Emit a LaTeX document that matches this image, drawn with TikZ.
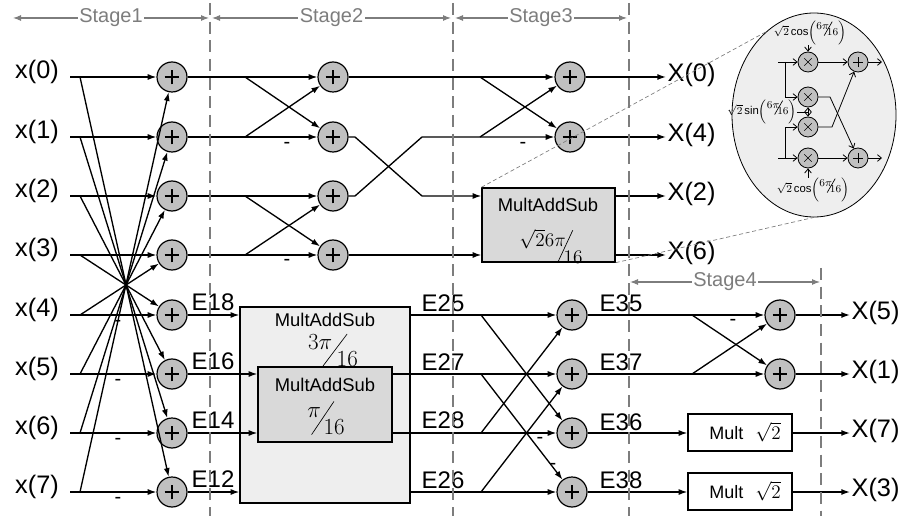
\documentclass[tikz,border=0pt]{standalone}
\usepackage{fontspec}
\setmainfont{Liberation Sans}
\usepackage{graphicx}
\usetikzlibrary{arrows.meta,shapes.geometric}
\definecolor{addfill}{RGB}{192,192,192}
\definecolor{boxdark}{RGB}{217,217,217}
\definecolor{boxlight}{RGB}{238,238,238}
\definecolor{guide}{RGB}{125,125,125}
\newcommand{\slf}[5][0.8em]{\raisebox{#1}{#2}\kern-0.45em\rotatebox{#5}{\rule{#4}{0.5pt}}\kern-0.5em#3}
\tikzset{
  wire/.style={line width=1pt},
  arr/.style={wire,-{Latex[length=6.5pt,width=4.5pt]}},
  adder/.style={circle,draw,fill=addfill,minimum size=22.5pt,inner sep=0pt,line width=0.9pt,
    path picture={\draw[line width=0.8pt] ([xshift=-5.6pt]path picture bounding box.center) -- ([xshift=5.6pt]path picture bounding box.center) ([yshift=-5.6pt]path picture bounding box.center) -- ([yshift=5.6pt]path picture bounding box.center);}},
  inlab/.style={font=\fontsize{19}{22}\selectfont,inner sep=1pt},
  outlab/.style={font=\fontsize{19}{22}\selectfont,inner sep=1pt,anchor=west},
  elab/.style={font=\fontsize{18}{21}\selectfont,inner sep=0pt},
  minus/.style={font=\fontsize{15}{18}\selectfont,inner sep=0pt},
  boxtitle/.style={font=\fontsize{13.8}{16}\selectfont,inner sep=0pt},
  fracl/.style={font=\fontsize{16}{19}\selectfont,inner sep=0pt},
  blk/.style={draw,inner sep=0pt,line width=1pt},
  stagedash/.style={guide,line width=1pt,dash pattern=on 9pt off 5pt},
  stg/.style={guide,line width=0.8pt,{Latex[length=6pt,width=4.5pt]}-{Latex[length=6pt,width=4.5pt]}},
  stlab/.style={text=guide,font=\fontsize{15}{18}\selectfont,fill=white,inner sep=1pt},
  zoomline/.style={guide,line width=0.5pt,dash pattern=on 3pt off 2pt},
  mulc/.style={circle,draw,fill=addfill,minimum size=15pt,inner sep=0pt,line width=0.6pt,
    path picture={\draw[line width=0.5pt] ([shift={(-2.8pt,-2.8pt)}]path picture bounding box.center) -- ([shift={(2.8pt,2.8pt)}]path picture bounding box.center) ([shift={(-2.8pt,2.8pt)}]path picture bounding box.center) -- ([shift={(2.8pt,-2.8pt)}]path picture bounding box.center);}},
  saddc/.style={circle,draw,fill=addfill,minimum size=15pt,inner sep=0pt,line width=0.6pt,
    path picture={\draw[line width=0.5pt] ([xshift=-3.8pt]path picture bounding box.center) -- ([xshift=3.8pt]path picture bounding box.center) ([yshift=-3.8pt]path picture bounding box.center) -- ([yshift=3.8pt]path picture bounding box.center);}},
  swire/.style={line width=0.6pt},
  sarr/.style={swire,-{Straight Barb[length=3pt,width=5pt]}},
  slab/.style={font=\fontsize{8.5}{10}\selectfont,inner sep=0pt},
}
\begin{document}
\begin{tikzpicture}[x=0.75pt,y=-0.75pt]
\useasboundingbox (0,0) rectangle (912,516);

% ---------- Stage 1 ----------
\foreach \i/\y in {0/77,1/137,2/196,3/255,4/315,5/374,6/433,7/492}{
  \node[inlab] (x\i) at (37,\y-5) {x(\i)};
  \coordinate (s\i) at (70,\y);
  \coordinate (b\i) at (80,\y);
  \node[adder] (a1-\i) at (172,\y) {};
}
\foreach \i in {0,...,7}{
  \pgfmathtruncatemacro{\j}{7-\i}
  \draw[arr] (s\i) -- (a1-\i);
  \draw[arr] (b\i) -- (a1-\j);
}
\node[minus] (neg1a) at (118,323) {-};
\node[minus] (neg1b) at (118,382) {-};
\node[minus] (neg1c) at (118,441) {-};
\node[minus] (neg1d) at (118,500) {-};

% ---------- Stage 2 (top) ----------
\foreach \i/\y in {0/77,1/137,2/196,3/255}{
  \coordinate (c\i) at (245,\y);
  \node[adder] (a2-\i) at (333,\y) {};
  \draw[arr] (a1-\i) -- (a2-\i);
}
\draw[arr] (c0) -- (a2-1);
\draw[arr] (c1) -- (a2-0);
\draw[arr] (c2) -- (a2-3);
\draw[arr] (c3) -- (a2-2);
\node[minus] (neg2a) at (287,145) {-};
\node[minus] (neg2b) at (287,262) {-};

% ---------- Stage 2 (bottom) boxes ----------
\node[blk,fill=boxlight,minimum width=127.5pt,minimum height=147pt] (box2o) at (325,405) {};
\node[boxtitle] (box2ot) at (325,320) {MultAddSub};
\node[fracl] (box2of) at (333,350) {\slf{$3\pi$}{$16$}{30pt}{53}};
\node[blk,fill=boxdark,minimum width=100.5pt,minimum height=56.25pt] (box2i) at (325,404.5) {};
\node[boxtitle] (box2it) at (325,385) {MultAddSub};
\node[fracl] (box2if) at (326,418) {\slf{$\pi$}{$16$}{30pt}{56}};

\draw[arr] (a1-4) -- (a1-4 -| box2o.west);
\draw[arr] (a1-5) -- (a1-5 -| box2i.west);
\draw[arr] (a1-6) -- (a1-6 -| box2i.west);
\draw[arr] (a1-7) -- (a1-7 -| box2o.west);
\node[elab] (E18) at (213,302) {E18};
\node[elab] (E16) at (213,361) {E16};
\node[elab] (E14) at (213,420) {E14};
\node[elab] (E12) at (213,479) {E12};

% ---------- Stage 3 (top) ----------
\node[blk,fill=boxdark,minimum width=99.75pt,minimum height=55.5pt] (box3) at (548.5,225) {};
\node[boxtitle] (box3t) at (548,205) {MultAddSub};
\node[fracl,font=\fontsize{14}{16}\selectfont] (box3f) at (551,246) {\slf[0.9em]{$\sqrt{2}6\pi$}{$16$}{27pt}{65}};

\node[adder] (a3-0) at (570,77) {};
\node[adder] (a3-1) at (570,137) {};
\coordinate (d0) at (480,77);
\coordinate (d1) at (480,137);
\coordinate (u1) at (355,137);
\coordinate (v1) at (422,196);
\coordinate (u2) at (355,196);
\coordinate (v2) at (422,137);
\draw[arr] (a2-0) -- (a3-0);
\draw[arr] (a2-1) -- (u1) -- (v1) -- (v1 -| box3.west);
\draw[arr] (a2-2) -- (u2) -- (v2) -- (a3-1);
\draw[arr] (d0) -- (a3-1);
\draw[arr] (d1) -- (a3-0);
\draw[arr] (a2-3) -- (a2-3 -| box3.west);
\node[minus] (neg3a) at (523,145) {-};

\node[outlab] (X0) at (666,75) {X(0)};
\node[outlab] (X4) at (666,135) {X(4)};
\node[outlab] (X2) at (666,194) {X(2)};
\node[outlab] (X6) at (666,253) {X(6)};
\draw[arr] (a3-0) -- (a3-0 -| X0.west);
\draw[arr] (a3-1) -- (a3-1 -| X4.west);
\draw[arr] (box3.east |- v1) -- (X2.west |- v1);
\draw[arr] (box3.east |- a2-3) -- (X6.west |- a2-3);

% ---------- Stage 3 (bottom) ----------
\foreach \i/\y in {4/315,5/374,6/433,7/492}{
  \coordinate (f\i) at (481,\y);
  \node[adder] (a3-\i) at (572,\y) {};
}
\draw[arr] (box2o.east |- f4) -- (a3-4);
\draw[arr] (box2i.east |- f5) -- (a3-5);
\draw[arr] (box2i.east |- f6) -- (a3-6);
\draw[arr] (box2o.east |- f7) -- (a3-7);
\draw[arr] (f4) -- (a3-6);
\draw[arr] (f5) -- (a3-7);
\draw[arr] (f6) -- (a3-4);
\draw[arr] (f7) -- (a3-5);
\node[elab] (E25) at (443,303) {E25};
\node[elab] (E27) at (443,362) {E27};
\node[elab] (E28) at (443,420) {E28};
\node[elab] (E26) at (443,480) {E26};
\node[minus] (neg3b) at (540,440) {-};
\node[minus] (neg3c) at (553,466) {-};

% ---------- Stage 4 ----------
\node[adder] (a4-4) at (780,315) {};
\node[adder] (a4-5) at (780,374) {};
\coordinate (g4) at (692,315);
\coordinate (g5) at (692,374);
\draw[arr] (a3-4) -- (a4-4);
\draw[arr] (a3-5) -- (a4-5);
\draw[arr] (g4) -- (a4-5);
\draw[arr] (g5) -- (a4-4);
\node[minus] (neg4a) at (733,322) {-};
\node[blk,fill=white,minimum width=78pt,minimum height=27.75pt] (mb6) at (740,432.5) {};
\node[blk,fill=white,minimum width=78pt,minimum height=27.75pt] (mb7) at (740,491.5) {};
\node[inner sep=0pt,font=\fontsize{13.5}{16}\selectfont] (mb6t) at (745,432) {Mult\hspace{9pt}{\fontsize{15}{17}\selectfont$\sqrt{2}$}};
\node[inner sep=0pt,font=\fontsize{13.5}{16}\selectfont] (mb7t) at (745,491) {Mult\hspace{9pt}{\fontsize{15}{17}\selectfont$\sqrt{2}$}};
\draw[arr] (a3-6) -- (a3-6 -| mb6.west);
\draw[arr] (a3-7) -- (a3-7 -| mb7.west);
\node[elab] (E35) at (621,303) {E35};
\node[elab] (E37) at (621,362) {E37};
\node[elab] (E36) at (621,422) {E36};
\node[elab] (E38) at (621,480) {E38};

\node[outlab] (X5) at (850,313) {X(5)};
\node[outlab] (X1) at (850,372) {X(1)};
\node[outlab] (X7) at (850,431) {X(7)};
\node[outlab] (X3) at (850,490) {X(3)};
\draw[arr] (a4-4) -- (a4-4 -| X5.west);
\draw[arr] (a4-5) -- (a4-5 -| X1.west);
\draw[arr] (mb6.east |- a3-6) -- (X7.west |- a3-6);
\draw[arr] (mb7.east |- a3-7) -- (X3.west |- a3-7);

% ---------- Inset ----------
\node[ellipse,draw,fill=boxlight,minimum width=123pt,minimum height=153pt,inner sep=0pt,line width=0.6pt] (ell) at (814,115) {};
\draw[zoomline] (box3.north west) -- (ell.120);
\draw[zoomline] (box3.south east) -- (ell.south);
\node[mulc] (mu1) at (808,62) {};
\node[mulc] (mu2) at (808,97) {};
\node[mulc] (mu3) at (808,127) {};
\node[mulc] (mu4) at (808,158) {};
\node[saddc] (sp1) at (858,62) {};
\node[saddc] (sp2) at (858,158) {};
\coordinate (i1) at (778,62);
\coordinate (k1) at (785,62);
\coordinate (k1b) at (785,97);
\coordinate (i4) at (778,158);
\coordinate (k4) at (785,158);
\coordinate (k4b) at (785,127);
\draw[sarr] (i1) -- (mu1);
\draw[sarr] (k1) -- (k1b) -- (mu2);
\draw[sarr] (i4) -- (mu4);
\draw[sarr] (k4) -- (k4b) -- (mu3);
\draw[sarr] (mu1) -- (sp1);
\draw[sarr] (mu4) -- (sp2);
\coordinate (q2) at (830,97);
\coordinate (q3) at (832,127);
\draw[sarr] (mu2) -- (q2) -- (sp2);
\draw[sarr] (mu3) -- (q3) -- (sp1);
\coordinate (o1) at (882,62);
\coordinate (o2) at (882,158);
\draw[sarr] (sp1) -- (o1);
\draw[sarr] (sp2) -- (o2);
\node[slab] (lc1) at (810,33) {$\sqrt{2}\cos\!\left(\mbox{\slf[0.55em]{$6\pi$}{$16$}{12pt}{60}}\right)$};
\node[slab] (ls) at (762,112) {$\sqrt{2}\sin\!\left(\mbox{\slf[0.55em]{$6\pi$}{$16$}{12pt}{60}}\right)$};
\node[slab] (lc2) at (813,190) {$\sqrt{2}\cos\!\left(\mbox{\slf[0.55em]{$6\pi$}{$16$}{12pt}{60}}\right)$};
\coordinate (jn) at (808,112);
\draw[sarr] (mu1 |- lc1.south) -- (mu1);
\draw[sarr] (mu4 |- lc2.north) -- (mu4);
\draw[swire] (ls.east |- jn) -- (jn);
\draw[sarr] (jn) -- (mu2);
\draw[sarr] (jn) -- (mu3);

% ---------- Stage headers and dashed separators ----------
\coordinate (h0) at (13,18);
\coordinate (h1) at (209,18);
\coordinate (h2) at (212,18);
\coordinate (h3) at (451,18);
\coordinate (h4) at (455,18);
\coordinate (h5) at (627,18);
\coordinate (h6) at (630,282);
\coordinate (h7) at (820,282);
\draw[stg] (h0) -- (h1) node[midway,stlab] (st1) {Stage1};
\draw[stg] (h2) -- (h3) node[midway,stlab] (st2) {Stage2};
\draw[stg] (h4) -- (h5) node[midway,stlab] (st3) {Stage3};
\draw[stg] (h6) -- (h7) node[midway,stlab] (st4) {Stage4};
\draw[stagedash] (210,3) -- (210,516);
\draw[stagedash] (453,3) -- (453,516);
\draw[stagedash] (629,3) -- (629,516);
\draw[stagedash] (821,268) -- (821,516);
\end{tikzpicture}
\end{document}
